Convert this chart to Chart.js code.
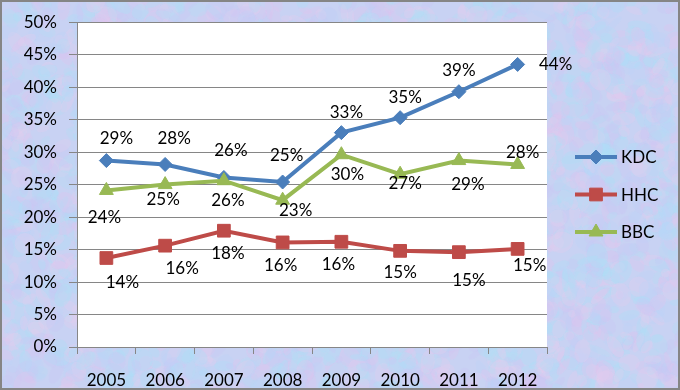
<!DOCTYPE html>
<html>
<head>
<meta charset="utf-8">
<script src="https://cdn.jsdelivr.net/npm/chart.js@4.4.1/dist/chart.umd.min.js"></script>
<style>
  body { margin: 0; background: #fff; }
  canvas { display: block; }
</style>
</head>
<body>
<canvas id="chart" width="680" height="390"></canvas>
<script>
    "use strict";

    // data (percent)
    var years = ['2005', '2006', '2007', '2008', '2009', '2010', '2011', '2012'];
    var kdc = [28.7, 28.1, 26.1, 25.4, 33.0, 35.3, 39.3, 43.5];
    var hhc = [13.7, 15.6, 17.9, 16.1, 16.2, 14.8, 14.6, 15.1];
    var bbc = [24.1, 25.0, 25.6, 22.6, 29.6, 26.6, 28.7, 28.1];
    var yMax = 50;
    var yStep = 5;

    // where each value label sits relative to its point (dx, dy)
    var labelOffsets = {
        KDC: [[10, -22], [9, -26], [7, -27], [4, -26], [5, -20], [5, -20], [0, -21], [38, 0]],
        HHC: [[16, 25], [17, 23], [4, 23], [-2, 23], [-3, 23], [0, 22], [10, 28], [12, 17]],
        BBC: [[-2, 27], [-2, 15], [4, 20], [13, 10], [6, 20], [5, 9], [9, 24], [5, -12]]
    };

    var FONT = 'Lato, "Liberation Sans", sans-serif';
    var FONT_SIZE = 17;

    function hash(n) {
        var s = Math.sin(n * 12.9898) * 43758.5453;
        return s - Math.floor(s);
    }

    // pastel mottled backdrop, built once
    var texture = document.createElement('canvas');
    texture.width = 680;
    texture.height = 390;
    (function () {
        var t = texture.getContext('2d');
        t.fillStyle = '#c8d2f3';
        t.fillRect(0, 0, 680, 390);
        var tints = ['#a9e0f8', '#e2c2ee', '#cbc8f4', '#b4def6', '#e6cdef', '#bdd3f7'];
        for (var i = 0; i < 3200; i++) {
            t.globalAlpha = 0.3;
            t.fillStyle = tints[Math.floor(hash(i * 3 + 1) * tints.length)];
            t.beginPath();
            t.ellipse(hash(i * 7 + 2) * 680, hash(i * 11 + 5) * 390,
                3 + hash(i * 13 + 3) * 10, 3 + hash(i * 17 + 4) * 8,
                hash(i * 19) * Math.PI, 0, Math.PI * 2);
            t.fill();
        }
        t.globalAlpha = 1;
    })();

    var backdrop = {
        id: 'backdrop',
        beforeDraw: function (chart) {
            var ctx = chart.ctx;
            var a = chart.chartArea;
            ctx.save();
            ctx.drawImage(texture, 0, 0);
            ctx.fillStyle = '#ffffff';
            ctx.fillRect(a.left, a.top, a.right - a.left, a.bottom - a.top);
            ctx.restore();
        },
        afterDraw: function (chart) {
            var ctx = chart.ctx;
            ctx.save();
            ctx.strokeStyle = '#858585';
            ctx.lineWidth = 2;
            ctx.strokeRect(1, 1, chart.width - 2, chart.height - 2);
            ctx.restore();
        }
    };

    var valueLabels = {
        id: 'valueLabels',
        afterDatasetsDraw: function (chart) {
            var ctx = chart.ctx;
            ctx.save();
            ctx.font = FONT_SIZE + 'px ' + FONT;
            ctx.fillStyle = '#000000';
            ctx.textAlign = 'center';
            ctx.textBaseline = 'middle';
            chart.data.datasets.forEach(function (ds, di) {
                var meta = chart.getDatasetMeta(di);
                var offs = labelOffsets[ds.label];
                meta.data.forEach(function (pt, i) {
                    ctx.fillText(Math.round(ds.data[i]) + '%', pt.x + offs[i][0], pt.y + offs[i][1]);
                });
            });
            ctx.restore();
        }
    };

    var sideLegend = {
        id: 'sideLegend',
        afterDraw: function (chart) {
            var ctx = chart.ctx;
            var order = ['KDC', 'HHC', 'BBC'];
            ctx.save();
            order.forEach(function (name, i) {
                var ds = chart.data.datasets.find(function (d) { return d.label === name; });
                var y = 157 + i * 37.5;
                ctx.strokeStyle = ds.borderColor;
                ctx.lineWidth = 4;
                ctx.beginPath();
                ctx.moveTo(575, y);
                ctx.lineTo(617, y);
                ctx.stroke();
                ctx.fillStyle = ds.pointBackgroundColor;
                ctx.strokeStyle = ds.pointBorderColor;
                ctx.lineWidth = 1;
                Chart.helpers.drawPoint(ctx, {
                    pointStyle: ds.pointStyle,
                    radius: ds.pointRadius,
                    borderWidth: 1
                }, 596, y);
                ctx.fillStyle = '#000000';
                ctx.font = FONT_SIZE + 'px ' + FONT;
                ctx.textAlign = 'left';
                ctx.textBaseline = 'middle';
                ctx.fillText(name, 621, y + 1);
            });
            ctx.restore();
        }
    };

    function series(label, data, color, style, radius, order) {
        return {
            label: label,
            data: data,
            borderColor: color,
            backgroundColor: color,
            pointBackgroundColor: color,
            pointBorderColor: color,
            borderWidth: 4,
            pointStyle: style,
            pointRadius: radius,
            pointHoverRadius: radius,
            pointBorderWidth: 1,
            tension: 0,
            order: order
        };
    }

    var ctx = document.getElementById('chart').getContext('2d');
    var chart = new Chart(ctx, {
        type: 'line',
        data: {
            labels: years,
            datasets: [
                series('KDC', kdc, '#4a7ebb', 'rectRot', 7, 3),
                series('HHC', hhc, '#be4b48', 'rect', 9, 2),
                series('BBC', bbc, '#98b954', 'triangle', 8, 1)
            ]
        },
        options: {
            responsive: false,
            animation: false,
            layout: { padding: { top: 18, right: 133, left: 0, bottom: 0 } },
            plugins: {
                legend: { display: false },
                tooltip: { enabled: false }
            },
            scales: {
                x: {
                    offset: true,
                    grid: {
                        offset: true,
                        drawOnChartArea: false,
                        drawTicks: true,
                        tickLength: 7,
                        color: '#868686'
                    },
                    border: { color: '#868686', width: 1 },
                    ticks: {
                        color: '#000000',
                        padding: 16,
                        maxRotation: 0,
                        font: { family: FONT, size: FONT_SIZE }
                    },
                    afterFit: function (scale) { scale.height = 43; }
                },
                y: {
                    min: 0,
                    max: yMax,
                    grid: {
                        color: '#868686',
                        tickLength: 8,
                        drawTicks: true
                    },
                    border: { color: '#868686', width: 1 },
                    ticks: {
                        stepSize: yStep,
                        color: '#000000',
                        padding: 12,
                        font: { family: FONT, size: FONT_SIZE },
                        callback: function (v) { return v + '%'; }
                    },
                    afterFit: function (scale) { scale.width = 77; }
                }
            }
        },
        plugins: [backdrop, valueLabels, sideLegend]
    });
</script>
</body>
</html>
